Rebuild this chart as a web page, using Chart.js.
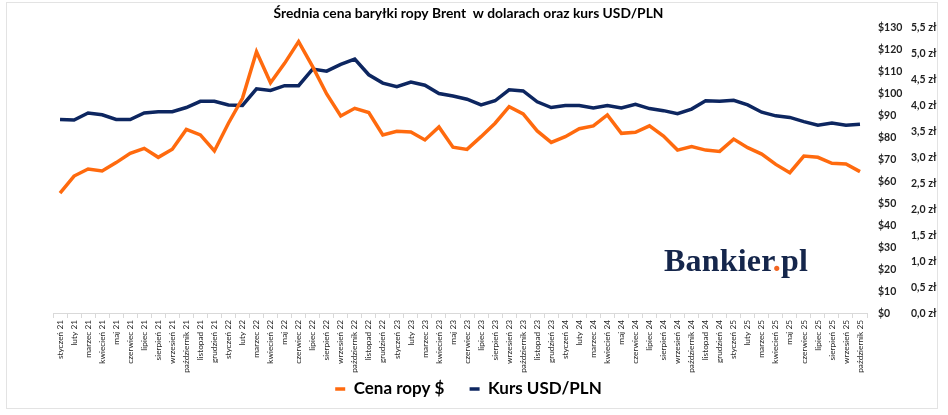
<!DOCTYPE html>
<html>
<head>
<meta charset="utf-8">
<script src="https://cdn.jsdelivr.net/npm/chart.js@4.4.1/dist/chart.umd.min.js"></script>
<style>
  html, body { margin: 0; padding: 0; background: #fff; }
  #wrap { position: relative; width: 948px; height: 415px; overflow: hidden; background: #fff; }
  #c { position: absolute; left: 0; top: 0; }
  #frame { position: absolute; left: 6px; top: 2px; width: 930px; height: 405px; border: 1px solid #e3e3e3; pointer-events: none; }
  #logo { position: absolute; left: 664px; top: 244px; font-family: "Liberation Serif", serif; font-weight: bold; font-size: 32px; color: #15264b; letter-spacing: 0.2px; line-height: 1; }
  #logo .dot { color: #f26522; }
</style>
</head>
<body>
<div id="wrap">
  <canvas id="c" width="948" height="415"></canvas>
  <div id="frame"></div>
  <div id="logo">Bankier<span class="dot">.</span>pl</div>
</div>
<script>
const monthNames = ['styczeń','luty','marzec','kwiecień','maj','czerwiec','lipiec','sierpień','wrzesień','październik','listopad','grudzień'];
const years = ['21','22','23','24','25'];
const lastMonthIndex = 9; // październik 25

const categories = [];
years.forEach((y, yi) => {
  monthNames.forEach((m, mi) => {
    if (yi === years.length - 1 && mi > lastMonthIndex) return;
    categories.push(m + ' ' + y);
  });
});

const cenaRopy = [
  54.9, 62.7, 65.9, 65.0, 68.8, 73.0, 75.3, 71.2, 74.9, 83.9, 81.4, 74.1,
  86.7, 98.0, 119.2, 105.1, 113.9, 123.8, 112.4, 100.0, 90.0, 93.5, 91.6, 81.4,
  83.0, 82.7, 79.1, 85.0, 75.8, 74.8, 80.6, 86.7, 94.2, 90.9, 83.2, 78.0,
  80.6, 84.2, 85.5, 90.5, 82.1, 82.6, 85.5, 80.9, 74.5, 76.1, 74.5, 73.9,
  79.5, 75.6, 72.7, 68.0, 64.2, 71.8, 71.2, 68.5, 68.2, 64.7
];

const kursUsdPln = [
  3.74, 3.73, 3.865, 3.83, 3.74, 3.74, 3.865, 3.89, 3.89, 3.97, 4.09, 4.09,
  4.02, 4.01, 4.33, 4.30, 4.39, 4.39, 4.71, 4.67, 4.80, 4.90, 4.60, 4.44,
  4.37, 4.46, 4.40, 4.24, 4.19, 4.13, 4.02, 4.10, 4.31, 4.29, 4.08, 3.97,
  4.01, 4.01, 3.96, 4.01, 3.96, 4.03, 3.95, 3.91, 3.85, 3.94, 4.10, 4.09,
  4.11, 4.02, 3.88, 3.81, 3.78, 3.70, 3.63, 3.67, 3.63, 3.65
];

const seriesNames = ['Cena ropy $', 'Kurs USD/PLN'];
const chartTitle = 'Średnia cena baryłki ropy Brent  w dolarach oraz kurs USD/PLN';

const ORANGE = '#ff6a0e';
const NAVY = '#0d2660';
const TICK_COLOR = '#1f1f1f';

new Chart(document.getElementById('c'), {
  type: 'line',
  data: {
    labels: categories,
    datasets: [
      { label: seriesNames[0], data: cenaRopy, yAxisID: 'yUsd', borderColor: ORANGE, backgroundColor: ORANGE, borderWidth: 3.5, pointRadius: 0, pointHoverRadius: 0, tension: 0, fill: false },
      { label: seriesNames[1], data: kursUsdPln, yAxisID: 'yPln', borderColor: NAVY, backgroundColor: NAVY, borderWidth: 3.5, pointRadius: 0, pointHoverRadius: 0, tension: 0, fill: false }
    ]
  },
  options: {
    responsive: false,
    animation: false,
    devicePixelRatio: 1,
    layout: { padding: { left: 0, right: 11, top: 0, bottom: 7.5 } },
    plugins: {
      tooltip: { enabled: false },
      title: {
        display: true,
        text: chartTitle,
        color: '#000',
        font: { family: 'Lato', weight: 'bold', size: 13.8 },
        padding: { top: 5.5, bottom: 5.9 }
      },
      legend: {
        position: 'bottom',
        labels: {
          usePointStyle: true,
          pointStyle: 'line',
          pointStyleWidth: 10,
          color: '#000',
          padding: 4.5,
          font: { family: 'Lato', weight: 'bold', size: 17 },
          generateLabels: (chart) => {
            const items = Chart.defaults.plugins.legend.labels.generateLabels(chart);
            items.forEach((it, i) => { if (i < items.length - 1) it.text = it.text + '     '; });
            return items;
          }
        }
      }
    },
    scales: {
      x: {
        offset: true,
        afterFit: (s) => { s.height = 62; },
        grid: { display: true, drawOnChartArea: false, drawTicks: true, tickLength: 4, offset: true, color: '#d9d9d9' },
        border: { display: true, color: '#d9d9d9', width: 1 },
        ticks: { autoSkip: false, maxRotation: 90, minRotation: 90, padding: 2, color: TICK_COLOR, font: { family: 'Lato', size: 8.3 } }
      },
      yLeft: {
        position: 'left',
        afterFit: (s) => { s.width = 53; },
        grid: { display: false, drawTicks: false },
        border: { display: false },
        ticks: { display: false }
      },
      yUsd: {
        position: 'right',
        min: 0, max: 130,
        afterFit: (s) => { s.width = 43; },
        grid: { display: false, drawTicks: false },
        border: { display: false },
        ticks: { stepSize: 10, padding: 11, color: TICK_COLOR, font: { family: 'Lato', weight: 'bold', size: 10.5 }, callback: (v) => '$' + v }
      },
      yPln: {
        position: 'right',
        min: 0, max: 5.5,
        afterFit: (s) => { s.width = 27; },
        grid: { display: false, drawTicks: false },
        border: { display: false },
        ticks: { stepSize: 0.5, padding: 1, color: TICK_COLOR, font: { family: 'Lato', weight: 'bold', size: 10.5 }, callback: (v) => v.toFixed(1).replace('.', ',') + ' zł' }
      }
    }
  }
});
</script>
</body>
</html>
